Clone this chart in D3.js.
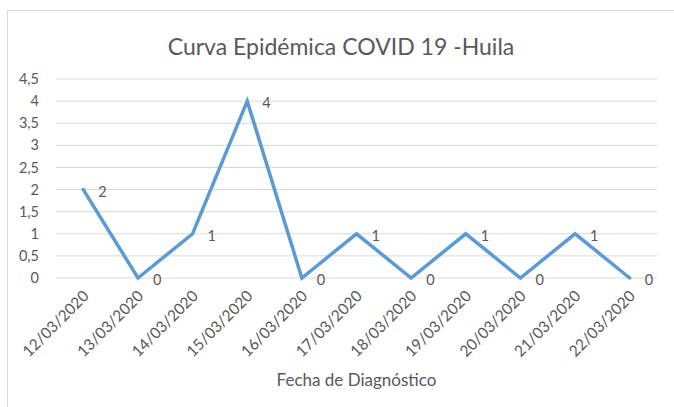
<!DOCTYPE html>
<html>
<head>
<meta charset="utf-8">
<script src="https://cdn.jsdelivr.net/npm/d3@7"></script>
<style>
  body { margin: 0; background: #fff; }
  text { font-family: Lato, "Open Sans", sans-serif; fill: #595959; }
</style>
</head>
<body>
<svg width="674" height="407"></svg>
<script>
// Data
var fechas = ['12/03/2020', '13/03/2020', '14/03/2020', '15/03/2020', '16/03/2020',
  '17/03/2020', '18/03/2020', '19/03/2020', '20/03/2020', '21/03/2020', '22/03/2020'];
var casos = [2, 0, 1, 4, 0, 1, 0, 1, 0, 1, 0];
var yTicks = [0, 0.5, 1, 1.5, 2, 2.5, 3, 3.5, 4, 4.5];

var svg = d3.select('svg');

// Chart frame
svg.append('rect')
  .attr('x', 7.5).attr('y', 10.5)
  .attr('width', 700).attr('height', 420)
  .attr('fill', '#fff')
  .attr('stroke', '#d9d9d9');

var margin = { left: 56, right: 17, top: 79, bottom: 129 };
var width = 674 - margin.left - margin.right;
var height = 407 - margin.top - margin.bottom;

var x = d3.scalePoint().domain(fechas).range([0, width]).padding(0.5);
var y = d3.scaleLinear().domain([0, 4.5]).range([height, 0]);

var g = svg.append('g')
  .attr('transform', 'translate(' + margin.left + ',' + margin.top + ')');

// Gridlines
g.selectAll('.grid')
  .data(yTicks)
  .enter().append('line')
  .attr('x1', 0).attr('x2', width)
  .attr('y1', function (d) { return y(d); })
  .attr('y2', function (d) { return y(d); })
  .attr('stroke', '#d9d9d9')
  .attr('stroke-width', 1);

// Y axis labels
var yAxis = d3.axisLeft(y).tickValues(yTicks).tickSize(0).tickPadding(17)
  .tickFormat(function (d) { return String(d).replace('.', ','); });
g.append('g').call(yAxis)
  .call(function (s) { s.select('.domain').remove(); })
  .selectAll('text')
  .style('font-size', '14.5px')
  .attr('fill', '#595959');

// X axis labels
var xAxis = d3.axisBottom(x).tickSize(0).tickPadding(0);
g.append('g')
  .attr('transform', 'translate(0,' + height + ')')
  .call(xAxis)
  .call(function (s) { s.select('.domain').remove(); })
  .selectAll('text')
  .style('font-size', '15.5px')
  .attr('fill', '#595959')
  .attr('text-anchor', 'end')
  .attr('dy', 0)
  .attr('y', 0)
  .attr('transform', 'translate(6,19) rotate(-45)');

// Line
var line = d3.line()
  .x(function (d, i) { return x(fechas[i]); })
  .y(function (d) { return y(d); });

g.append('path')
  .datum(casos)
  .attr('fill', 'none')
  .attr('stroke', '#5b9bd5')
  .attr('stroke-width', 3.5)
  .attr('stroke-linejoin', 'miter')
  .attr('stroke-linecap', 'round')
  .attr('d', line);

// Data labels
g.selectAll('.lbl')
  .data(casos)
  .enter().append('text')
  .attr('x', function (d, i) { return x(fechas[i]) + 15; })
  .attr('y', function (d) { return y(d) + 7; })
  .style('font-size', '14.5px')
  .attr('fill', '#404040')
  .text(function (d) { return d; });

// Title
svg.append('text')
  .attr('x', 341).attr('y', 55)
  .attr('text-anchor', 'middle')
  .style('font-size', '23px')
  .text('Curva Epidémica COVID 19 -Huila');

// Axis title
svg.append('text')
  .attr('x', margin.left + width / 2).attr('y', 386)
  .attr('text-anchor', 'middle')
  .style('font-size', '17px')
  .text('Fecha de Diagnóstico');
</script>
</body>
</html>
